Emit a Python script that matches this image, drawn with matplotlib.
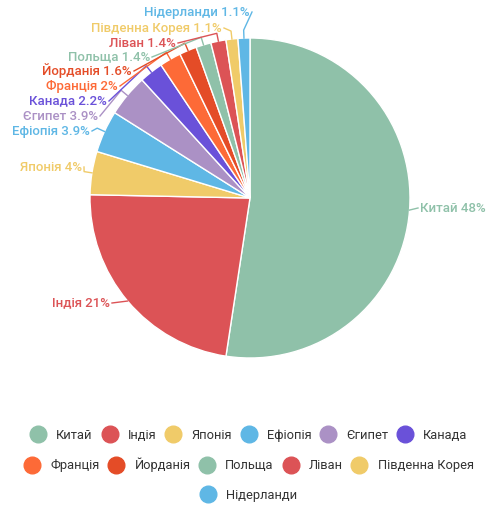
import numpy as np
import matplotlib
matplotlib.use("Agg")
import matplotlib.pyplot as plt
from matplotlib.lines import Line2D

plt.rcParams['font.family'] = ['Roboto', 'DejaVu Sans']

# data
countries = ["Китай", "Індія", "Японія", "Ефіопія", "Єгипет", "Канада",
             "Франція", "Йорданія", "Польща", "Ліван", "Південна Корея", "Нідерланди"]
shares = [48, 21, 4, 3.9, 3.9, 2.2, 2, 1.6, 1.4, 1.4, 1.1, 1.1]
share_text = ["48%", "21%", "4%", "3.9%", "3.9%", "2.2%", "2%", "1.6%", "1.4%", "1.4%", "1.1%", "1.1%"]
colors = ["#8fc1a9", "#dc5356", "#f0cb69", "#5fb7e5", "#ab91c5", "#6a51d9",
          "#fd6a37", "#e44c27", "#8fc1a9", "#dc5356", "#f0cb69", "#5fb7e5"]

W, H = 498, 511
fig = plt.figure(figsize=(W / 100, H / 100), dpi=100)
ax = fig.add_axes([0, 0, 1, 1])

cx, cy, r = 250, H - 198, 160
wedges, _ = ax.pie(shares, colors=colors, startangle=90, counterclock=False,
                   center=(cx, cy), radius=r, frame=True,
                   wedgeprops=dict(edgecolor="white", linewidth=1))
ax.set_xlim(0, W)
ax.set_ylim(0, H)
ax.set_aspect("equal")
ax.axis("off")

# label text anchor (image px): x end of text (right side: start), y centre
label_pos = [(420, 208), (110, 303), (82, 167), (90, 131), (98, 116), (107, 101),
             (118, 86), (132, 71), (150, 57), (176, 43), (222, 28), (250, 12)]

for i, w in enumerate(wedges):
    ang = np.deg2rad((w.theta1 + w.theta2) / 2)
    px, py = cx + r * np.cos(ang), cy + r * np.sin(ang)
    ex, ey = cx + (r + 8) * np.cos(ang), cy + (r + 8) * np.sin(ang)
    tx, ty = label_pos[i]
    ty = H - ty
    right = i == 0
    if right:
        lx, ha = tx - 2, "left"
    else:
        lx, ha = tx + 2, "right"
    if i >= 2:
        ax.plot([px, ex, lx], [py, ey, ty], color=colors[i], lw=1)
    else:
        ax.plot([px, lx], [py, ty], color=colors[i], lw=1)
    ax.text(tx, ty, f"{countries[i]} {share_text[i]}",
            ha=ha, va="center", color=colors[i], fontsize=9.5, fontweight="medium")

# legend rows
rows = [range(0, 6), range(6, 11), range(11, 12)]
row_y = [435, 465, 495]
for rr, yy in zip(rows, row_y):
    handles = [Line2D([], [], marker="o", linestyle="", markersize=12,
                      markerfacecolor=colors[k], markeredgecolor=colors[k]) for k in rr]
    labels = [countries[k] for k in rr]
    leg = fig.legend(handles, labels, loc="center", bbox_to_anchor=(0.5, 1 - yy / H),
                     ncol=len(labels), frameon=False, fontsize=9.3,
                     handletextpad=0.8, columnspacing=0.7, handlelength=1.2)
    for t in leg.get_texts():
        t.set_color("#333333")

fig.savefig("out.png", dpi=100)
